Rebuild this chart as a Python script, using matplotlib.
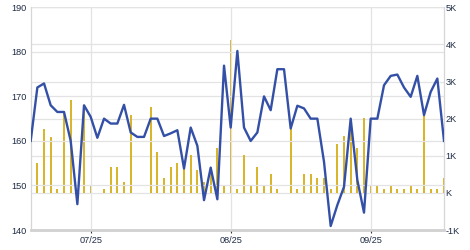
import numpy as np
import matplotlib
matplotlib.use("Agg")
import matplotlib.pyplot as plt

# price line (left axis)
price = [160.0, 172.0, 172.9, 168.0, 166.5, 166.5, 160.0, 145.8, 168.0, 165.4,
         160.7, 165.0, 163.9, 163.9, 168.1, 161.9, 160.9, 160.9, 165.0, 165.0,
         161.1, 161.7, 162.4, 153.8, 163.0, 158.9, 146.7, 154.0, 146.9, 176.9,
         163.0, 180.2, 163.0, 160.0, 161.9, 170.0, 166.9, 176.1, 176.1, 162.8,
         167.9, 167.3, 165.0, 165.0, 155.3, 140.9, 145.6, 149.7, 165.0, 151.2,
         143.9, 165.0, 165.0, 172.5, 174.6, 174.9, 172.0, 169.9, 174.6, 165.8,
         171.0, 174.0, 160.0]

# volume bars (right axis, in K)
volume = [0.0, 0.81, 1.72, 1.51, 0.10, 2.18, 2.51, 0.0, 2.35, 0.21,
          0.0, 0.10, 0.70, 0.70, 0.30, 2.09, 0.0, 0.0, 2.32, 1.11,
          0.41, 0.70, 0.81, 0.65, 1.02, 0.61, 0.30, 0.70, 1.22, 0.21,
          4.12, 0.10, 1.02, 0.21, 0.70, 0.21, 0.51, 0.10, 0.0, 1.74,
          0.10, 0.51, 0.51, 0.41, 0.41, 0.10, 1.32, 1.52, 1.71, 1.21,
          2.02, 0.21, 0.21, 0.10, 0.21, 0.10, 0.10, 0.21, 0.10, 2.09,
          0.10, 0.10, 0.40]

x_tick_pos = [9, 30, 51]
x_tick_labels = ["07/25", "08/25", "09/25"]
left_ticks = [140, 150, 160, 170, 180, 190]
right_ticks = [-1, 0, 1, 2, 3, 4, 5]
right_labels = ["-1K", "K", "1K", "2K", "3K", "4K", "5K"]

plt.rcParams['font.family'] = ['Liberation Sans', 'DejaVu Sans']
text_col = '#1e2a44'
grid_col = '#e3e3e3'

fig = plt.figure(figsize=(4.7, 2.5), dpi=100)
ax = fig.add_axes([0.0653, 0.08, 0.8794, 0.8908])
ax2 = ax.twinx()

# bars go behind the line
ax2.set_zorder(ax.get_zorder() - 1)
ax.patch.set_visible(False)

idx = np.arange(len(price))
ax2.bar(idx, volume, width=0.3, color='#d9b52c', lw=0, zorder=2, antialiased=False)
ax.plot(idx, price, color='#3350a6', lw=1.7, zorder=3)

ax.set_xlim(0, len(price) - 1)
ax.set_ylim(140, 190)
ax2.set_ylim(-1, 5)

ax.set_yticks(left_ticks)
ax.set_yticklabels([str(v) for v in left_ticks])
ax2.set_yticks(right_ticks)
ax2.set_yticklabels(right_labels)
ax.set_xticks(x_tick_pos)
ax.set_xticklabels(x_tick_labels)

ax.grid(True, color=grid_col, lw=0.9)
ax2.grid(True, axis='y', color=grid_col, lw=0.9)
ax2.xaxis.grid(False)

ax.tick_params(axis='y', length=0, pad=3, labelsize=6.6, labelcolor=text_col)
ax2.tick_params(axis='y', length=0, pad=1, labelsize=6.6, labelcolor=text_col)
ax.tick_params(axis='x', length=2.5, width=0.8, color='#333333', pad=1.5,
               labelsize=6.6, labelcolor=text_col)

for a in (ax, ax2):
    for s in a.spines.values():
        s.set_color('#d6d6d6')
        s.set_linewidth(0.8)
    a.spines['top'].set_visible(False)
    a.spines['bottom'].set_linewidth(1.8)
    a.spines['bottom'].set_color('#d2d2d2')

fig.savefig("out.png", dpi=100)
